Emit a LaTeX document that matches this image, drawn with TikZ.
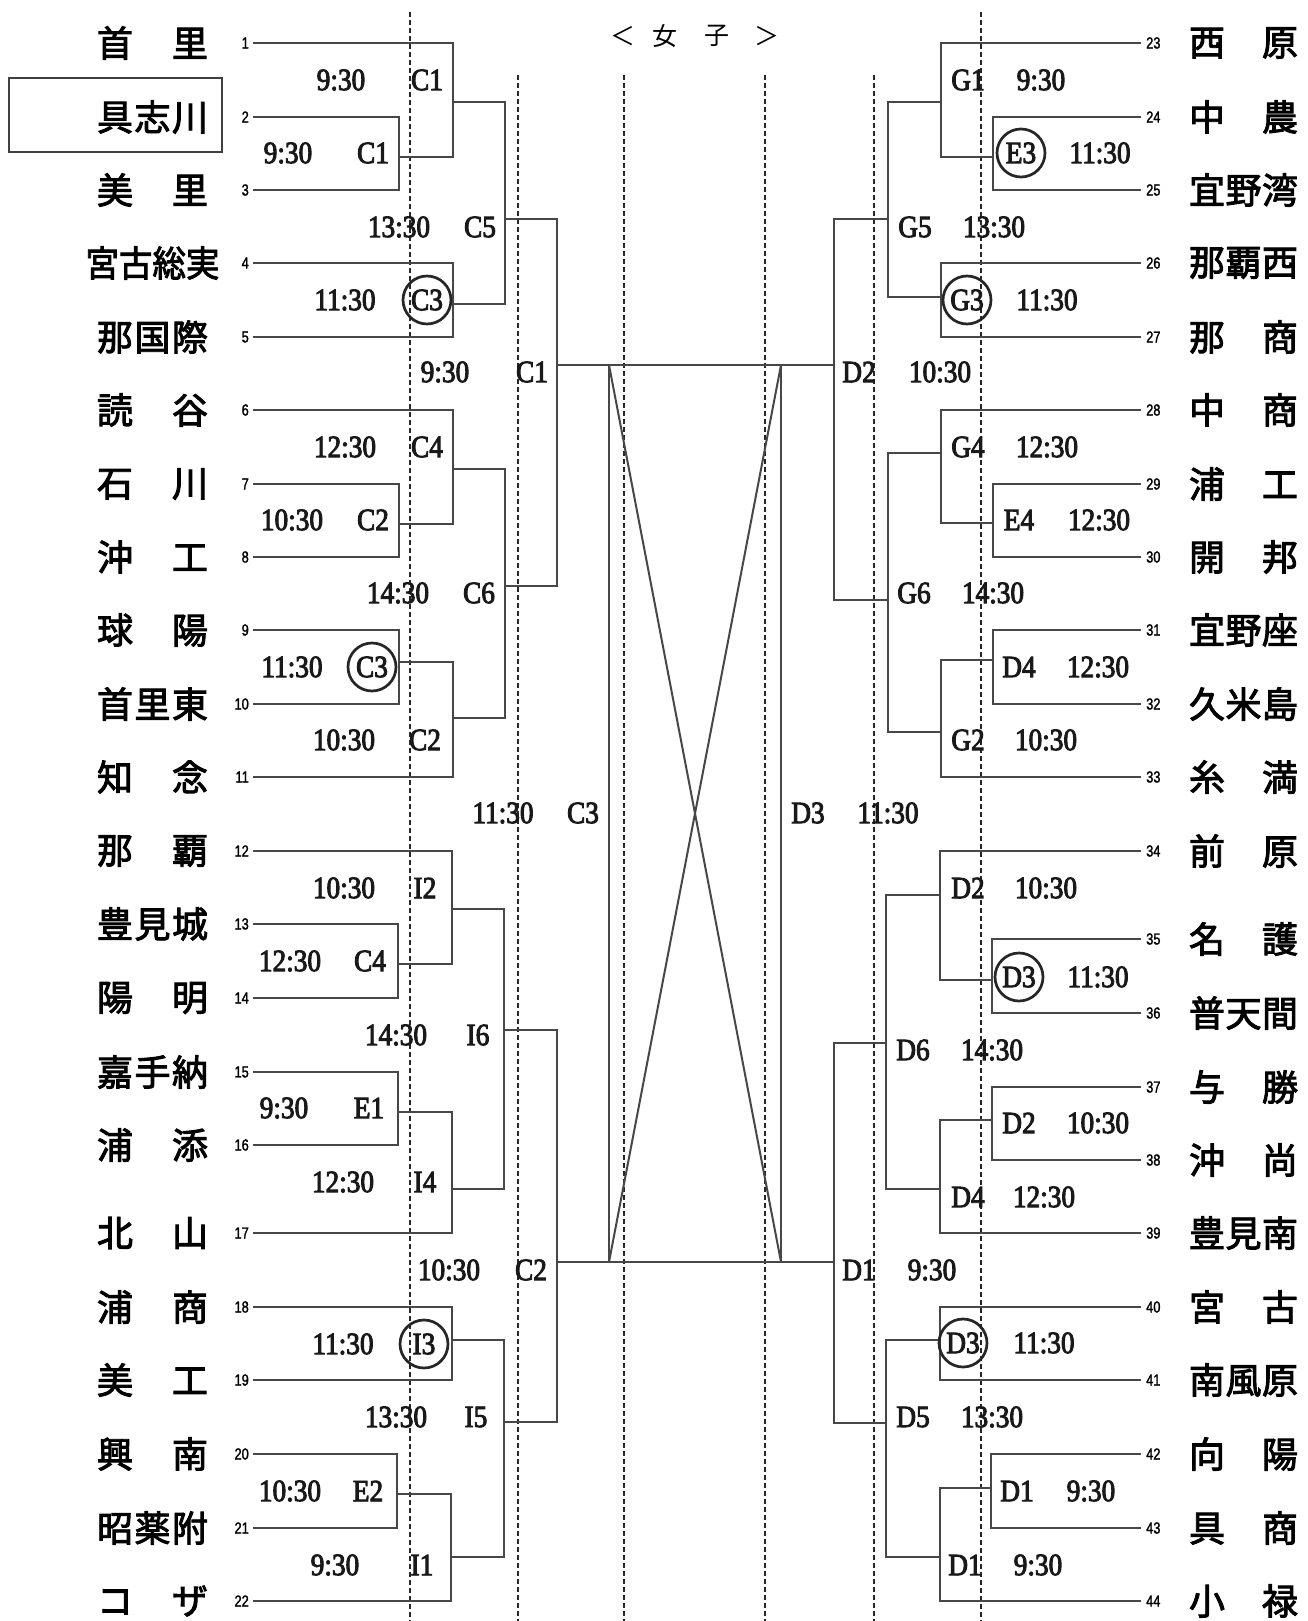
\documentclass[tikz,border=0pt]{standalone}
\usepackage{fontspec}
\setmainfont{Liberation Serif}
\newfontfamily\cjk[FakeBold=2.6]{Noto Sans CJK JP}
\newfontfamily\cjkt{Noto Sans CJK JP}
\newfontfamily\lblf[FakeStretch=0.88,FakeBold=3]{Liberation Serif}
\newfontfamily\numf[FakeStretch=0.8,FakeBold=1.5]{Liberation Sans}
\begin{document}
\begin{tikzpicture}[x=1pt,y=-1pt,
 ln/.style={line width=2pt, draw=black!72},
 dsh/.style={line width=1.3pt, draw=black!85, dash pattern=on 5pt off 3pt},
 lbl/.style={font=\lblf\fontsize{31}{31}\selectfont, inner sep=0pt, text=black!90},
 cir/.style={lbl, circle, draw=black!85, line width=2.7pt, minimum size=48pt},
 nm/.style={font=\cjk\fontsize{36}{36}\selectfont, inner sep=0pt},
 ttl/.style={font=\cjkt\fontsize{25}{25}\selectfont, inner sep=0pt},
 num/.style={font=\numf\fontsize{16}{16}\selectfont, inner sep=0pt},
]
\fill[white] (0,0) rectangle (1308,1621);
\useasboundingbox (0,0) rectangle (1308,1621);

% title
\node[ttl] (ti1) at (623,36) {＜};
\node[ttl] (ti2) at (665,36) {女};
\node[ttl] (ti3) at (717,36) {子};
\node[ttl] (ti4) at (767,36) {＞};

% dashed guides
\foreach \x/\t [count=\i] in {410/12,518/75,624/75,765/75,874/75,981/12}{
  \coordinate (gt\i) at (\x,\t);
  \coordinate (gb\i) at (\x,1621);
  \draw[dsh] (gt\i) -- (gb\i);
}

% team coordinates and numbers
\foreach \y [count=\i] in {43,117,190,263,337,410,484,557,630,704,777,851,924,998,1072,1145,1233,1307,1380,1454,1528,1601}{
  \coordinate (tL\i) at (253,\y);
  \node[num, anchor=east] (nL\i) at (249,\y) {\i};
}
\foreach \y [count=\i from 23] in {43,117,190,263,337,410,484,557,630,704,777,851,939,1013,1087,1160,1233,1307,1380,1454,1528,1601}{
  \coordinate (tR\i) at (1141,\y);
  \node[num, anchor=west] (nR\i) at (1146,\y) {\i};
}

% left names
\foreach \n/\y [count=\i] in {首\hfill 里/43,具\hfill 志\hfill 川/117,美\hfill 里/190,{}/263,那\hfill 国\hfill 際/337,読\hfill 谷/410,石\hfill 川/484,沖\hfill 工/557,球\hfill 陽/630,首\hfill 里\hfill 東/704,知\hfill 念/777,那\hfill 覇/851,豊\hfill 見\hfill 城/924,陽\hfill 明/998,嘉\hfill 手\hfill 納/1072,浦\hfill 添/1145,北\hfill 山/1233,浦\hfill 商/1307,美\hfill 工/1380,興\hfill 南/1454,昭\hfill 薬\hfill 附/1528,コ\hfill ザ/1601}{
  \node[nm] (sL\i) at (152.5,\y) {\makebox[111pt][s]{\n}};
}
\node[nm] (sL4b) at (152.5,263) {\scalebox{0.93}[1]{宮古総実}};
\draw[line width=1.5pt, draw=black!75] (9,78) rectangle (222,152);

% right names
\foreach \n/\y [count=\i from 23] in {西\hfill 原/43,中\hfill 農/117,宜\hfill 野\hfill 湾/190,那\hfill 覇\hfill 西/263,那\hfill 商/337,中\hfill 商/410,浦\hfill 工/484,開\hfill 邦/557,宜\hfill 野\hfill 座/630,久\hfill 米\hfill 島/704,糸\hfill 満/777,前\hfill 原/851,名\hfill 護/939,普\hfill 天\hfill 間/1013,与\hfill 勝/1087,沖\hfill 尚/1160,豊\hfill 見\hfill 南/1233,宮\hfill 古/1307,南\hfill 風\hfill 原/1380,向\hfill 陽/1454,具\hfill 商/1528,小\hfill 禄/1601}{
  \node[nm] (sR\i) at (1243.5,\y) {\makebox[109pt][s]{\n}};
}

% ---------- left bracket ----------
\coordinate (a1) at (399,157);
\coordinate (a2) at (453,102);
\coordinate (a3) at (453,304);
\coordinate (a4) at (505,219);
\coordinate (b1) at (399,524);
\coordinate (b2) at (453,469);
\coordinate (b3) at (399,662);
\coordinate (b4) at (453,718);
\coordinate (b5) at (505,586);
\coordinate (F1) at (557,365);
\coordinate (c1) at (398,964);
\coordinate (c2) at (452,909);
\coordinate (c3) at (398,1112);
\coordinate (c4) at (452,1189);
\coordinate (c5) at (504,1030);
\coordinate (d1) at (452,1340);
\coordinate (d2) at (397,1494);
\coordinate (d3) at (451,1557);
\coordinate (d4) at (504,1422);
\coordinate (F2) at (557,1262);

\draw[ln] (tL2) -| (a1); \draw[ln] (tL3) -| (a1);
\draw[ln] (tL1) -| (a2); \draw[ln] (a1) -| (a2);
\draw[ln] (tL4) -| (a3); \draw[ln] (tL5) -| (a3);
\draw[ln] (a2) -| (a4); \draw[ln] (a3) -| (a4);
\draw[ln] (tL7) -| (b1); \draw[ln] (tL8) -| (b1);
\draw[ln] (tL6) -| (b2); \draw[ln] (b1) -| (b2);
\draw[ln] (tL9) -| (b3); \draw[ln] (tL10) -| (b3);
\draw[ln] (b3) -| (b4); \draw[ln] (tL11) -| (b4);
\draw[ln] (b2) -| (b5); \draw[ln] (b4) -| (b5);
\draw[ln] (a4) -| (F1); \draw[ln] (b5) -| (F1);
\draw[ln] (tL13) -| (c1); \draw[ln] (tL14) -| (c1);
\draw[ln] (tL12) -| (c2); \draw[ln] (c1) -| (c2);
\draw[ln] (tL15) -| (c3); \draw[ln] (tL16) -| (c3);
\draw[ln] (c3) -| (c4); \draw[ln] (tL17) -| (c4);
\draw[ln] (c2) -| (c5); \draw[ln] (c4) -| (c5);
\draw[ln] (tL18) -| (d1); \draw[ln] (tL19) -| (d1);
\draw[ln] (tL20) -| (d2); \draw[ln] (tL21) -| (d2);
\draw[ln] (d2) -| (d3); \draw[ln] (tL22) -| (d3);
\draw[ln] (d1) -| (d4); \draw[ln] (d3) -| (d4);
\draw[ln] (c5) -| (F2); \draw[ln] (d4) -| (F2);

% ---------- right bracket ----------
\coordinate (e1) at (993,157);
\coordinate (e2) at (941,102);
\coordinate (e3) at (941,297);
\coordinate (e4) at (888,219);
\coordinate (f1) at (993,523);
\coordinate (f2) at (941,453);
\coordinate (f3) at (993,660);
\coordinate (f4) at (941,732);
\coordinate (f5) at (888,600);
\coordinate (G) at (834,365);
\coordinate (g1) at (992,980);
\coordinate (g2) at (940,895);
\coordinate (g3) at (992,1120);
\coordinate (g4) at (940,1189);
\coordinate (g5) at (886,1043);
\coordinate (h1) at (940,1340);
\coordinate (h2) at (991,1488);
\coordinate (h3) at (940,1557);
\coordinate (h4) at (886,1423);
\coordinate (H) at (834,1262);

\draw[ln] (tR24) -| (e1); \draw[ln] (tR25) -| (e1);
\draw[ln] (tR23) -| (e2); \draw[ln] (e1) -| (e2);
\draw[ln] (tR26) -| (e3); \draw[ln] (tR27) -| (e3);
\draw[ln] (e2) -| (e4); \draw[ln] (e3) -| (e4);
\draw[ln] (tR29) -| (f1); \draw[ln] (tR30) -| (f1);
\draw[ln] (tR28) -| (f2); \draw[ln] (f1) -| (f2);
\draw[ln] (tR31) -| (f3); \draw[ln] (tR32) -| (f3);
\draw[ln] (f3) -| (f4); \draw[ln] (tR33) -| (f4);
\draw[ln] (f2) -| (f5); \draw[ln] (f4) -| (f5);
\draw[ln] (e4) -| (G); \draw[ln] (f5) -| (G);
\draw[ln] (tR35) -| (g1); \draw[ln] (tR36) -| (g1);
\draw[ln] (tR34) -| (g2); \draw[ln] (g1) -| (g2);
\draw[ln] (tR37) -| (g3); \draw[ln] (tR38) -| (g3);
\draw[ln] (g3) -| (g4); \draw[ln] (tR39) -| (g4);
\draw[ln] (g2) -| (g5); \draw[ln] (g4) -| (g5);
\draw[ln] (tR40) -| (h1); \draw[ln] (tR41) -| (h1);
\draw[ln] (tR42) -| (h2); \draw[ln] (tR43) -| (h2);
\draw[ln] (h2) -| (h3); \draw[ln] (tR44) -| (h3);
\draw[ln] (h1) -| (h4); \draw[ln] (h3) -| (h4);
\draw[ln] (g5) -| (H); \draw[ln] (h4) -| (H);

% ---------- centre ----------
\coordinate (xA) at (609,365);
\coordinate (xB) at (781,365);
\coordinate (xC) at (609,1262);
\coordinate (xD) at (781,1262);
\draw[ln] (F1) -- (G);
\draw[ln] (F2) -- (H);
\draw[ln] (xA) -- (xC);
\draw[ln] (xB) -- (xD);
\draw[ln] (xA) -- (xD);
\draw[ln] (xB) -- (xC);

% ---------- labels ----------
\foreach \t/\x/\y [count=\i] in {
 9:30/341/80, C1/427/80, 9:30/288/153, C1/373/153, 13:30/399/227, C5/480/227,
 11:30/345/300, 9:30/445/372, C1/532/372, 12:30/345/447, C4/427/447,
 10:30/292/520, C2/373/520, 14:30/398/593, C6/479/593, 11:30/292/667,
 10:30/344/740, C2/425/740, 11:30/503/813, C3/583/813,
 10:30/344/888, I2/425/888, 12:30/290/961, C4/370/961, 14:30/396/1035, I6/478/1035,
 9:30/284/1108, E1/369/1108, 12:30/343/1182, I4/425/1182, 10:30/449/1270, C2/531/1270,
 11:30/343/1344, 13:30/396/1417, I5/476/1417, 10:30/290/1491, E2/368/1491,
 9:30/335/1565, I1/422/1565,
 G1/968/80, 9:30/1041/80, 11:30/1100/153, G5/915/227, 13:30/994/227,
 11:30/1047/300, D2/859/372, 10:30/940/372, G4/968/447, 12:30/1047/447,
 E4/1019/520, 12:30/1099/520, G6/914/593, 14:30/993/593, D4/1019/667, 12:30/1098/667,
 G2/968/740, 10:30/1046/740, D3/808/813, 11:30/888/813, D2/968/888, 10:30/1046/888,
 11:30/1098/977, D6/913/1050, 14:30/992/1050, D2/1019/1123, 10:30/1098/1123,
 D4/968/1197, 12:30/1044/1197, D1/859/1270, 9:30/932/1270, 11:30/1044/1343,
 D5/913/1417, 13:30/992/1417, D1/1017/1491, 9:30/1091/1491, D1/965/1565, 9:30/1038/1565}{
  \node[lbl] (lab\i) at (\x,\y) {\t};
}
\foreach \t/\x/\y [count=\i] in {C3/427/300, C3/372/667, I3/424/1344, E3/1021/153, G3/967/300, D3/1019/977, D3/963/1343}{
  \node[cir] (cc\i) at (\x,\y) {\t};
}
\end{tikzpicture}
\end{document}
